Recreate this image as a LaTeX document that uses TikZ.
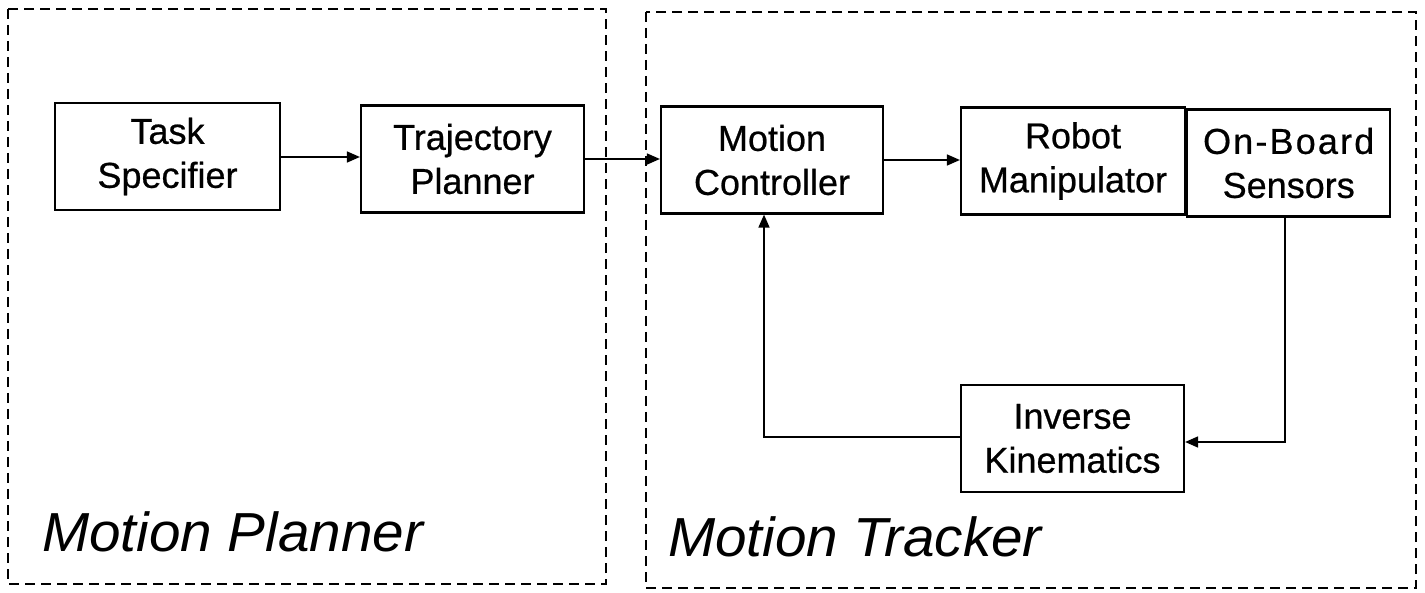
\documentclass[tikz,border=0pt]{standalone}
\usepackage{fontspec}
\setmainfont{Liberation Sans}
\newfontfamily\boxfont[FakeBold=0.6]{Liberation Sans}
\newfontfamily\widefont[FakeBold=0.6,LetterSpace=6]{Liberation Sans}
\newfontfamily\groupfont[FakeStretch=1.03]{Liberation Sans Italic}
\usetikzlibrary{arrows.meta}
\begin{document}
\begin{tikzpicture}[x=1pt,y=-1pt,
  block/.style={draw, line width=2.2pt, minimum width=#1, minimum height=107pt,
    inner sep=0pt, align=center,
    font=\boxfont\fontsize{36}{44}\selectfont},
  block/.default=223pt,
  group/.style={draw, line width=1.7pt, dash pattern=on 10pt off 6pt},
  link/.style={line width=1.6pt, -{Triangle[length=13pt,width=11pt]}},
  grouplabel/.style={anchor=base west, inner sep=0pt,
    font=\groupfont\fontsize{55}{55}\selectfont}]
\useasboundingbox (0,0) rectangle (1425,593);

% the two groups
\draw[group] (8,9) rectangle (606,584);
\draw[group] (646,12) rectangle (1416,588);

% blocks
\node[block=225pt] (ts) at (167.5,156.5) {Task\\Specifier};
\node[block] (tp) at (472.5,159) {Trajectory\\Planner};
\node[block=222pt] (mc) at (772,160) {Motion\\Controller};
\node[block=224pt] (rm) at (1073,161) {Robot\\Manipulator};
\node[block=203pt, anchor=west, yshift=-2pt] (obs) at (rm.east)
  {{\widefont On-Board}\\Sensors};
\node[block] (ik) at (1072.5,438.5) {Inverse\\Kinematics};

% group names
\node[grouplabel] (mp) at (42,551) {Motion Planner};
\node[grouplabel] (mt) at (668,556) {Motion Tracker};

% forward path
\draw[link] (ts.east |- 0,157) -- (tp.west |- 0,157);
\draw[link] (tp.east |- 0,159) -- (mc.west |- 0,159);
\draw[link] (mc.east |- 0,160) -- (rm.west |- 0,160);

% feedback loop
\coordinate (c1) at (1285,442);
\coordinate (c2) at (764,437);
\draw[link] (obs.south -| c1) -- (c1) -- (ik.east |- c1);
\draw[link] (ik.west |- c2) -- (c2) -- (mc.south -| c2);
\end{tikzpicture}
\end{document}
